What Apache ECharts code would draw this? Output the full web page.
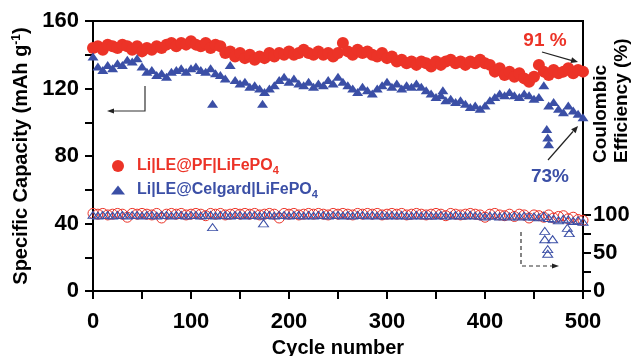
<!DOCTYPE html>
<html><head><meta charset="utf-8">
<script src="https://cdn.jsdelivr.net/npm/echarts@6/dist/echarts.min.js"></script>
<style>html,body{margin:0;padding:0;background:#fff}#c{width:634px;height:356px}</style>
</head><body><div id="c"></div>
<script>
const cycles = [0,5,10,15,20,25,30,35,40,45,50,55,60,65,70,75,80,85,90,95,100,105,110,115,120,125,130,135,140,145,150,155,160,165,170,175,180,185,190,195,200,205,210,215,220,225,230,235,240,245,250,255,260,265,270,275,280,285,290,295,300,305,310,315,320,325,330,335,340,345,350,355,360,365,370,375,380,385,390,395,400,405,410,415,420,425,430,435,440,445,450,455,460,465,470,475,480,485,490,495,500];

const pfCapacity = [144,145,143,146,145,144,146,145,143,145,142,144,143,145,144,146,147,145,147,146,148,146,145,147,144,146,145,141,142,139,141,138,140,137,139,138,141,139,141,140,142,140,141,143,141,140,142,140,141,139,141,147,142,140,143,141,142,140,139,141,138,139,136,137,135,136,134,136,135,133,136,134,136,137,135,136,134,136,135,137,135,134,130,132,128,130,127,129,126,124,127,134,130,128,131,129,130,132,129,131,130];

const celgardCapacity = [139,133,131,134,132,135,134,137,136,138,133,130,131,128,129,127,130,131,132,130,132,133,131,130,132,129,128,126,134,125,123,124,121,122,120,118,120,122,125,127,124,126,123,122,124,121,123,122,125,123,127,124,122,120,118,121,119,117,120,122,124,121,123,120,122,121,123,121,119,117,115,116,113,114,112,113,111,109,110,108,110,113,115,117,116,118,116,115,117,116,114,115,122,110,112,108,106,110,107,105,103];

const celgardCapOutlierCycles = [122,173,357,463,464,465];
const celgardCapOutlierValues = [111,111,119,96,91,87];

const pfCE = [102,101,102,100,101,102,101,97,102,101,102,101,100,102,96,101,102,101,102,100,101,102,101,99,102,101,102,100,101,102,101,102,101,102,100,101,102,101,96,102,101,102,100,101,102,101,102,101,100,102,101,102,101,100,102,101,102,101,102,100,101,102,101,102,100,101,102,101,100,101,102,101,99,102,101,100,101,102,101,100,97,101,102,100,99,101,98,101,100,96,100,99,97,100,96,98,99,95,97,94,93];

const celgardCE = [100,99,100,100,99,100,100,99,100,100,99,100,100,99,100,100,99,100,100,99,100,100,99,100,100,99,100,100,99,100,100,99,100,100,99,100,100,99,100,100,99,100,100,99,100,99,100,100,99,100,100,99,100,99,100,100,99,100,99,100,99,100,99,100,99,99,100,99,100,99,99,100,99,99,100,99,99,100,99,99,98,99,99,98,99,98,99,98,99,98,98,97,99,96,95,93,95,94,92,93,91];

const celgardCEOutlierCycles = [122,174,461,461,469,464,464,484,486];
const celgardCEOutlierValues = [84,89,79,68,68,55,49,83,76];

const xTicks = [0,100,200,300,400,500];
const leftTicks = [0,40,80,120,160];
const rightLabelTicks = [0,50,100];
const rightMinorTicks = [0,25,50,75,100];

const RED = '#ec3327';
const BLUE = '#3b4fa6';
const FONT = 'Liberation Sans';

const pair = (xs, ys) => xs.map((x, i) => [x, ys[i]]);

function arrowHead(x, y, ang, len, wid) {
  const bx = x - len * Math.cos(ang), by = y - len * Math.sin(ang);
  const px = -Math.sin(ang) * wid, py = Math.cos(ang) * wid;
  return { type: 'polygon', shape: { points: [[x, y], [bx + px, by + py], [bx - px, by - py]] }, style: { fill: '#222' }, silent: true };
}

const chart = echarts.init(document.getElementById('c'), null, { renderer: 'canvas' });

const axisLine = { show: true, onZero: false, lineStyle: { color: '#000', width: 2 } };
const axisTick = { show: true, length: 8, lineStyle: { color: '#000', width: 2 } };
const labelStyle = { color: '#000', fontFamily: FONT, fontWeight: 'bold', fontSize: 22 };

const a1 = Math.atan2(62 - 52, 577 - 542);
const a2 = Math.atan2(127 - 160, 577 - 548);

chart.setOption({
  animation: false,
  backgroundColor: '#fff',
  grid: { left: 93, right: 51, top: 21, bottom: 65, containLabel: false, outerBoundsMode: 'none', show: true, borderColor: '#000', borderWidth: 2, backgroundColor: 'transparent' },
  xAxis: {
    type: 'value', min: 0, max: 500, interval: 50,
    axisLine, axisTick, splitLine: { show: false },
    axisLabel: Object.assign({ margin: 20, formatter: v => xTicks.includes(v) ? String(v) : '' }, labelStyle),
    name: 'Cycle number', nameLocation: 'middle', nameGap: 47,
    nameTextStyle: { color: '#000', fontFamily: FONT, fontWeight: 'bold', fontSize: 20 }
  },
  yAxis: [{
    type: 'value', min: 0, max: 160, interval: 20, position: 'left',
    axisLine, axisTick, splitLine: { show: false },
    axisLabel: Object.assign({ margin: 14, formatter: v => leftTicks.includes(v) ? String(v) : '' }, labelStyle),
    name: '{a|Specific Capacity (mAh g}{s|-1}{a|)}', nameLocation: 'middle', nameGap: 54,
    nameTextStyle: {
      rich: {
        a: { color: '#000', fontFamily: FONT, fontWeight: 'bold', fontSize: 20, lineHeight: 22 },
        s: { color: '#000', fontFamily: FONT, fontWeight: 'bold', fontSize: 12, lineHeight: 22, verticalAlign: 'top' }
      }
    }
  }, {
    type: 'value', min: 0, max: 355, position: 'right',
    axisLine, splitLine: { show: false },
    axisTick: Object.assign({ customValues: rightMinorTicks }, axisTick),
    axisLabel: Object.assign({ margin: 10, customValues: rightLabelTicks }, labelStyle)
  }],
  legend: {
    orient: 'vertical', left: 106, top: 153, itemWidth: 14, itemHeight: 12, itemGap: 6,
    symbolKeepAspect: true,
    data: [{ name: 'PF', icon: 'circle' }, { name: 'Celgard', icon: 'path://M0,9 L7,0 L14,9 Z' }],
    formatter: n => n === 'PF' ? '{r|Li|LE@PF|LiFePO}{rs|4}' : '{b|Li|LE@Celgard|LiFePO}{bs|4}',
    textStyle: {
      rich: {
        r: { color: RED, fontFamily: FONT, fontWeight: 'bold', fontSize: 16, lineHeight: 20, padding: [0, 0, 0, 7] },
        rs: { color: RED, fontFamily: FONT, fontWeight: 'bold', fontSize: 11, lineHeight: 20, verticalAlign: 'bottom' },
        b: { color: BLUE, fontFamily: FONT, fontWeight: 'bold', fontSize: 16, lineHeight: 20, padding: [0, 0, 0, 7] },
        bs: { color: BLUE, fontFamily: FONT, fontWeight: 'bold', fontSize: 11, lineHeight: 20, verticalAlign: 'bottom' }
      }
    }
  },
  series: [
    { name: 'PF', type: 'scatter', data: pair(cycles, pfCapacity), symbol: 'circle', symbolSize: 12, itemStyle: { color: RED, opacity: 1 } },
    { name: 'Celgard', type: 'scatter', data: pair(cycles, celgardCapacity), symbol: 'triangle', symbolSize: [11, 8], itemStyle: { color: BLUE, opacity: 1 } },
    { name: 'Celgard', type: 'scatter', data: pair(celgardCapOutlierCycles, celgardCapOutlierValues), symbol: 'triangle', symbolSize: [11, 8], itemStyle: { color: BLUE, opacity: 1 } },
    { name: 'PF CE', type: 'scatter', yAxisIndex: 1, data: pair(cycles, pfCE), symbol: 'circle', symbolSize: 10, itemStyle: { color: 'rgba(255,255,255,0)', borderColor: RED, borderWidth: 1, opacity: 1 } },
    { name: 'Celgard CE', type: 'scatter', yAxisIndex: 1, data: pair(cycles, celgardCE), symbol: 'triangle', symbolSize: [10, 7], itemStyle: { color: 'rgba(255,255,255,0)', borderColor: BLUE, borderWidth: 1, opacity: 1 } },
    { name: 'Celgard CE', type: 'scatter', yAxisIndex: 1, data: pair(celgardCEOutlierCycles, celgardCEOutlierValues), symbol: 'triangle', symbolSize: [10, 7], itemStyle: { color: 'rgba(255,255,255,0)', borderColor: BLUE, borderWidth: 1, opacity: 1 } }
  ],
  graphic: [
    { type: 'text', silent: true, style: { text: '91 %', x: 545, y: 41, align: 'center', verticalAlign: 'middle', fill: RED, font: 'bold 19px ' + FONT } },
    { type: 'text', silent: true, style: { text: '73%', x: 550, y: 177, align: 'center', verticalAlign: 'middle', fill: BLUE, font: 'bold 19px ' + FONT } },
    { type: 'line', silent: true, shape: { x1: 542, y1: 52, x2: 572, y2: 60.6 }, style: { stroke: '#222', lineWidth: 1.2 } },
    arrowHead(578, 62, a1, 7, 3),
    { type: 'line', silent: true, shape: { x1: 548, y1: 160, x2: 573, y2: 131.5 }, style: { stroke: '#222', lineWidth: 1.2 } },
    arrowHead(578, 126, a2, 7, 3),
    { type: 'polyline', silent: true, shape: { points: [[145, 86], [145, 111], [113, 111]] }, style: { stroke: '#333', lineWidth: 1.2, fill: null } },
    arrowHead(107, 111, Math.PI, 7, 2.5),
    { type: 'polyline', silent: true, shape: { points: [[521, 232], [521, 266], [553, 266]] }, style: { stroke: '#333', lineWidth: 1.2, lineDash: [4, 3], fill: null } },
    arrowHead(559, 266, 0, 7, 2.5),
    { type: 'text', silent: true, x: 601, y: 163, rotation: Math.PI / 2, style: { text: 'Coulombic', x: 0, y: 0, align: 'left', verticalAlign: 'middle', fill: '#000', font: 'bold 19px ' + FONT } },
    { type: 'text', silent: true, x: 622, y: 163, rotation: Math.PI / 2, style: { text: 'Efficiency (%)', x: 0, y: 0, align: 'left', verticalAlign: 'middle', fill: '#000', font: 'bold 19px ' + FONT } }
  ]
});
</script>
</body></html>
